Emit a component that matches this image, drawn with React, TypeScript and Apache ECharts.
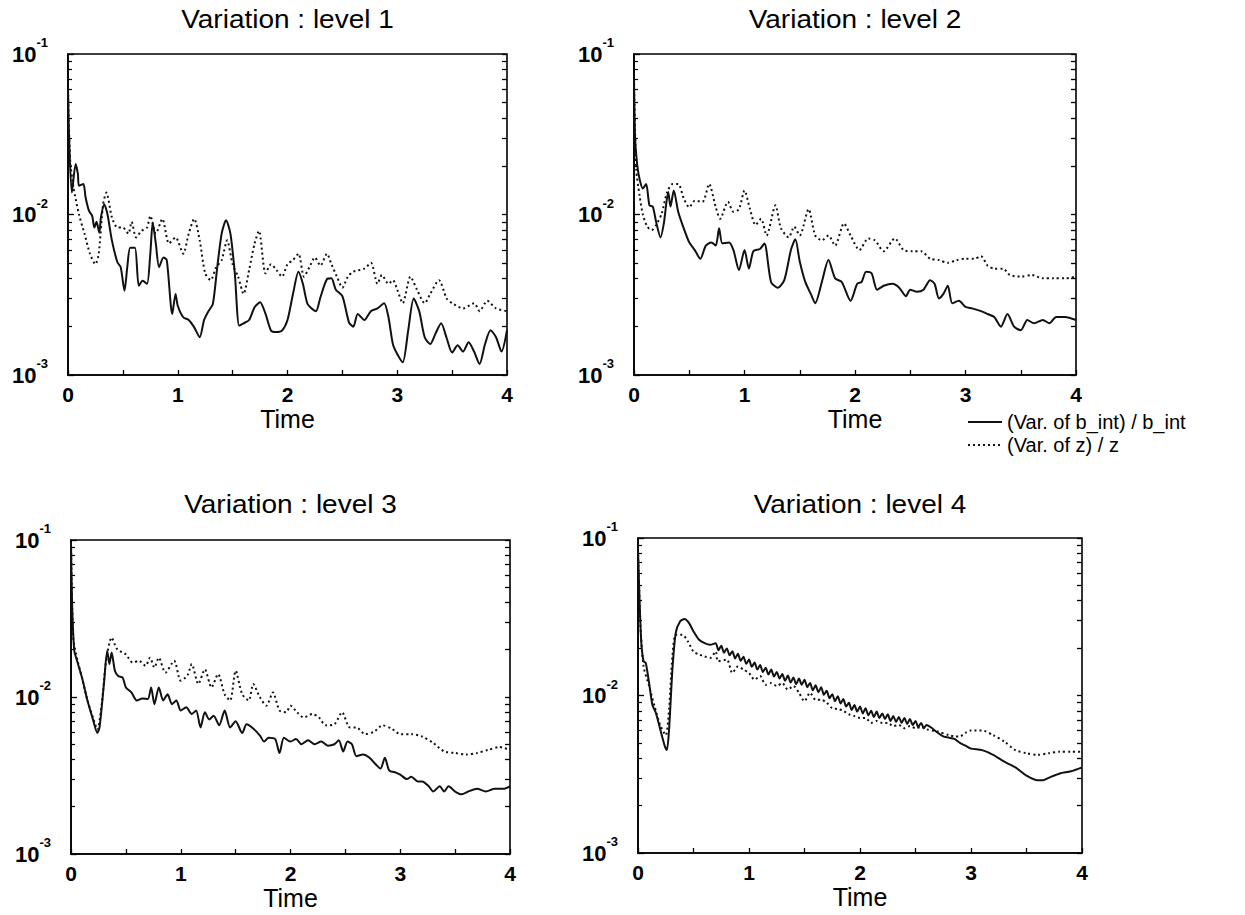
import React, { useEffect, useRef } from 'react';
import * as echarts from 'echarts';

// ---------- data ----------
const panelTitles = ['Variation : level 1', 'Variation : level 2', 'Variation : level 3', 'Variation : level 4'];
const seriesNames = ['(Var. of b_int) / b_int', '(Var. of z) / z'];
const xAxisName = 'Time';

const level1Bint: [number, number][] = [
  [0, 0.06], [0.01, 0.03], [0.035, 0.0137], [0.07, 0.0206], [0.09, 0.0179], [0.1, 0.0151], [0.14, 0.0155],
  [0.16, 0.0128], [0.19, 0.0106], [0.22, 0.0098], [0.24, 0.0083], [0.26, 0.009], [0.285, 0.0077], [0.3, 0.0096],
  [0.33, 0.0116], [0.36, 0.01], [0.4, 0.0069], [0.45, 0.00504], [0.48, 0.0047], [0.515, 0.00335], [0.54, 0.0047],
  [0.567, 0.0062], [0.61, 0.0062], [0.645, 0.0036], [0.68, 0.00387], [0.72, 0.0037], [0.75, 0.0057], [0.772, 0.0089],
  [0.8, 0.0066], [0.83, 0.0047], [0.87, 0.0054], [0.9, 0.0052], [0.95, 0.0024], [0.98, 0.0032], [1.0, 0.0027],
  [1.05, 0.00229], [1.1, 0.0022], [1.15, 0.00198], [1.2, 0.00172], [1.24, 0.0022], [1.28, 0.0025], [1.32, 0.00277],
  [1.36, 0.0047], [1.4, 0.0076], [1.44, 0.0092], [1.48, 0.0076], [1.52, 0.0043], [1.56, 0.00203], [1.6, 0.0021],
  [1.65, 0.0022], [1.7, 0.00264], [1.75, 0.00284], [1.8, 0.0024], [1.85, 0.00189], [1.9, 0.00185], [1.95, 0.00189],
  [2.0, 0.0022], [2.05, 0.0032], [2.1, 0.0044], [2.14, 0.0037], [2.18, 0.0028], [2.22, 0.0026], [2.26, 0.0025],
  [2.3, 0.00305], [2.36, 0.00396], [2.4, 0.004], [2.44, 0.0034], [2.5, 0.0031], [2.56, 0.00213], [2.6, 0.002],
  [2.64, 0.0024], [2.7, 0.0022], [2.76, 0.0025], [2.82, 0.0026], [2.88, 0.0028], [2.92, 0.00229], [2.96, 0.00156],
  [3.0, 0.00135], [3.05, 0.0012], [3.1, 0.0019], [3.15, 0.003], [3.2, 0.0025], [3.25, 0.00172], [3.3, 0.00156],
  [3.35, 0.00182], [3.4, 0.0021], [3.45, 0.0017], [3.5, 0.00138], [3.55, 0.00153], [3.6, 0.0014], [3.65, 0.0016],
  [3.7, 0.0014], [3.75, 0.00117], [3.8, 0.00156], [3.85, 0.0019], [3.9, 0.00172], [3.95, 0.0014], [4.0, 0.0019],
];

const level1Z: [number, number][] = [
  [0, 0.06], [0.02, 0.0216], [0.05, 0.0148], [0.1, 0.01], [0.15, 0.0076], [0.2, 0.0057], [0.25, 0.0049],
  [0.28, 0.0057], [0.32, 0.0116], [0.35, 0.0137], [0.4, 0.0096], [0.45, 0.0083], [0.5, 0.0083], [0.55, 0.0076],
  [0.58, 0.009], [0.62, 0.0072], [0.67, 0.0079], [0.72, 0.0083], [0.75, 0.0098], [0.8, 0.0076], [0.86, 0.0094],
  [0.92, 0.0066], [0.98, 0.0072], [1.05, 0.0057], [1.1, 0.0076], [1.15, 0.0094], [1.2, 0.0069], [1.25, 0.0043],
  [1.3, 0.0039], [1.35, 0.0047], [1.4, 0.0052], [1.45, 0.0069], [1.5, 0.0049], [1.55, 0.0041], [1.6, 0.0032],
  [1.65, 0.0045], [1.7, 0.0066], [1.74, 0.0079], [1.8, 0.0043], [1.85, 0.0049], [1.9, 0.0045], [1.95, 0.0041],
  [2.0, 0.0049], [2.05, 0.0052], [2.1, 0.0057], [2.15, 0.0041], [2.2, 0.0047], [2.25, 0.0054], [2.3, 0.0048],
  [2.36, 0.0057], [2.4, 0.0049], [2.45, 0.0041], [2.5, 0.0035], [2.55, 0.0041], [2.6, 0.0044], [2.7, 0.0046],
  [2.76, 0.005], [2.82, 0.0037], [2.86, 0.0042], [2.92, 0.0037], [2.96, 0.0039], [3.0, 0.0034], [3.05, 0.0028],
  [3.12, 0.0041], [3.18, 0.0034], [3.25, 0.0028], [3.3, 0.0032], [3.38, 0.0039], [3.45, 0.003], [3.5, 0.0028],
  [3.6, 0.0026], [3.7, 0.0028], [3.75, 0.0025], [3.82, 0.0029], [3.9, 0.0026], [4.0, 0.0025],
];

const level2Bint: [number, number][] = [
  [0, 0.07], [0.01, 0.03], [0.03, 0.0202], [0.05, 0.0167], [0.08, 0.0145], [0.11, 0.0155], [0.14, 0.0114],
  [0.17, 0.0112], [0.2, 0.009], [0.24, 0.0072], [0.27, 0.0088], [0.31, 0.0138], [0.33, 0.0112], [0.36, 0.0141],
  [0.4, 0.0104], [0.45, 0.0082], [0.5, 0.0067], [0.55, 0.006], [0.6, 0.0053], [0.65, 0.0064], [0.7, 0.0067],
  [0.74, 0.0064], [0.77, 0.0082], [0.8, 0.0066], [0.86, 0.0067], [0.9, 0.006], [0.95, 0.0045], [1.0, 0.006],
  [1.04, 0.0046], [1.08, 0.0059], [1.14, 0.0061], [1.18, 0.0066], [1.24, 0.0038], [1.3, 0.0035], [1.36, 0.0039],
  [1.42, 0.006], [1.46, 0.007], [1.5, 0.0051], [1.55, 0.0038], [1.6, 0.0032], [1.64, 0.0028], [1.7, 0.0038],
  [1.76, 0.0052], [1.82, 0.004], [1.88, 0.0038], [1.96, 0.0029], [2.02, 0.0037], [2.06, 0.0038], [2.1, 0.0044],
  [2.15, 0.0043], [2.2, 0.0034], [2.26, 0.0036], [2.34, 0.0037], [2.4, 0.0035], [2.46, 0.0031], [2.5, 0.0034],
  [2.56, 0.0033], [2.62, 0.0034], [2.68, 0.0039], [2.72, 0.0037], [2.76, 0.003], [2.8, 0.0032], [2.84, 0.0036],
  [2.88, 0.0028], [2.94, 0.0029], [3.0, 0.00266], [3.06, 0.0026], [3.14, 0.0025], [3.2, 0.0024], [3.26, 0.0023],
  [3.32, 0.002], [3.38, 0.0024], [3.44, 0.002], [3.5, 0.0019], [3.56, 0.0022], [3.62, 0.0021], [3.7, 0.0022],
  [3.76, 0.0021], [3.82, 0.0023], [3.9, 0.0023], [4.0, 0.0022],
];

const level2Z: [number, number][] = [
  [0, 0.07], [0.02, 0.019], [0.05, 0.0132], [0.08, 0.01], [0.12, 0.0084], [0.16, 0.008], [0.2, 0.0086],
  [0.25, 0.0101], [0.3, 0.0138], [0.35, 0.0155], [0.4, 0.0155], [0.45, 0.0126], [0.5, 0.0111], [0.55, 0.0122],
  [0.62, 0.012], [0.68, 0.0155], [0.74, 0.0111], [0.78, 0.0094], [0.85, 0.012], [0.9, 0.0104], [0.95, 0.0108],
  [1.0, 0.0141], [1.05, 0.0108], [1.1, 0.0086], [1.15, 0.0094], [1.2, 0.0074], [1.28, 0.0114], [1.33, 0.0082],
  [1.4, 0.0072], [1.45, 0.0084], [1.5, 0.0074], [1.58, 0.0108], [1.64, 0.0074], [1.7, 0.0069], [1.76, 0.0074],
  [1.82, 0.0064], [1.9, 0.0088], [1.96, 0.0074], [2.04, 0.006], [2.12, 0.0071], [2.18, 0.0069], [2.26, 0.0059],
  [2.36, 0.0071], [2.44, 0.006], [2.52, 0.0059], [2.6, 0.0059], [2.68, 0.0053], [2.76, 0.0052], [2.84, 0.005],
  [2.92, 0.0052], [3.0, 0.0053], [3.08, 0.0053], [3.14, 0.0055], [3.2, 0.0048], [3.26, 0.0046], [3.34, 0.0046],
  [3.4, 0.0042], [3.5, 0.0041], [3.6, 0.0042], [3.7, 0.004], [3.8, 0.004], [3.9, 0.004], [4.0, 0.0041],
];

const level3Bint: [number, number][] = [
  [0, 0.096], [0.01, 0.039], [0.03, 0.0197], [0.06, 0.0166], [0.1, 0.0133], [0.15, 0.0095], [0.2, 0.0072],
  [0.24, 0.0059], [0.26, 0.0064], [0.3, 0.0121], [0.33, 0.0197], [0.35, 0.0162], [0.37, 0.0192], [0.4, 0.0147],
  [0.43, 0.0136], [0.47, 0.0133], [0.5, 0.0115], [0.55, 0.0107], [0.6, 0.0095], [0.65, 0.0098], [0.7, 0.0097],
  [0.73, 0.0115], [0.76, 0.009], [0.8, 0.0115], [0.84, 0.0095], [0.88, 0.0104], [0.92, 0.009], [0.96, 0.0095],
  [1.0, 0.0082], [1.05, 0.0086], [1.1, 0.0078], [1.14, 0.0082], [1.18, 0.0064], [1.22, 0.008], [1.26, 0.0072],
  [1.3, 0.0076], [1.35, 0.0066], [1.4, 0.0082], [1.45, 0.0064], [1.5, 0.007], [1.56, 0.0059], [1.6, 0.0067],
  [1.66, 0.0063], [1.72, 0.0057], [1.76, 0.0052], [1.8, 0.0055], [1.86, 0.0054], [1.9, 0.0044], [1.94, 0.0055],
  [2.0, 0.0052], [2.05, 0.0054], [2.1, 0.005], [2.16, 0.0053], [2.22, 0.005], [2.28, 0.0052], [2.34, 0.0049],
  [2.4, 0.005], [2.44, 0.0053], [2.48, 0.0045], [2.52, 0.0052], [2.56, 0.005], [2.6, 0.0042], [2.66, 0.0043],
  [2.72, 0.0041], [2.78, 0.0037], [2.82, 0.0035], [2.86, 0.0041], [2.9, 0.0034], [2.96, 0.0033], [3.0, 0.0032],
  [3.06, 0.003], [3.1, 0.0031], [3.16, 0.0029], [3.2, 0.0029], [3.26, 0.0027], [3.3, 0.0025], [3.36, 0.0027],
  [3.4, 0.0025], [3.44, 0.0027], [3.5, 0.0025], [3.56, 0.0024], [3.62, 0.0025], [3.7, 0.0026], [3.78, 0.0025],
  [3.86, 0.0026], [3.94, 0.0026], [4.0, 0.0027],
];

const level3Z: [number, number][] = [
  [0, 0.096], [0.02, 0.024], [0.06, 0.017], [0.1, 0.0133], [0.15, 0.0095], [0.2, 0.0074], [0.24, 0.0062],
  [0.28, 0.009], [0.32, 0.017], [0.37, 0.0239], [0.42, 0.0202], [0.5, 0.0187], [0.56, 0.0166], [0.62, 0.017],
  [0.68, 0.0158], [0.72, 0.0178], [0.76, 0.0154], [0.8, 0.0178], [0.86, 0.0143], [0.94, 0.017], [1.0, 0.0127],
  [1.06, 0.0137], [1.1, 0.0162], [1.16, 0.0121], [1.22, 0.015], [1.28, 0.0115], [1.34, 0.014], [1.4, 0.0104],
  [1.45, 0.0095], [1.5, 0.0147], [1.56, 0.0104], [1.62, 0.0095], [1.66, 0.0121], [1.72, 0.01], [1.78, 0.0088],
  [1.84, 0.0107], [1.9, 0.0082], [1.96, 0.008], [2.0, 0.0088], [2.06, 0.008], [2.12, 0.0074], [2.2, 0.0078],
  [2.26, 0.0074], [2.32, 0.0066], [2.4, 0.0067], [2.47, 0.008], [2.54, 0.0064], [2.6, 0.0064], [2.68, 0.0058],
  [2.76, 0.006], [2.84, 0.0066], [2.92, 0.0063], [3.0, 0.0058], [3.1, 0.0058], [3.2, 0.0056], [3.3, 0.0051],
  [3.4, 0.0045], [3.5, 0.0044], [3.6, 0.0043], [3.7, 0.0044], [3.8, 0.0046], [3.9, 0.0048], [4.0, 0.0046],
];

const level4Bint: [number, number][] = [
  [0, 0.084], [0.015, 0.0386], [0.03, 0.0215], [0.05, 0.0165], [0.07, 0.0161], [0.1, 0.012], [0.13, 0.0087],
  [0.16, 0.0078], [0.2, 0.0061], [0.24, 0.0048], [0.26, 0.0045], [0.28, 0.0061], [0.31, 0.0146], [0.34, 0.025],
  [0.38, 0.0296], [0.42, 0.0306], [0.46, 0.0288], [0.5, 0.0255], [0.55, 0.0226], [0.6, 0.0215], [0.65, 0.021],
  [0.7, 0.0215], [0.725, 0.0194], [0.75, 0.0207], [0.775, 0.0187], [0.8, 0.0199], [0.825, 0.018], [0.85, 0.0191],
  [0.875, 0.0172], [0.9, 0.0184], [0.925, 0.0166], [0.95, 0.0176], [0.975, 0.0159], [1.0, 0.0169], [1.025, 0.0152],
  [1.05, 0.0162], [1.075, 0.0146], [1.1, 0.0156], [1.125, 0.0141], [1.15, 0.015], [1.175, 0.0136], [1.2, 0.0146],
  [1.225, 0.0132], [1.25, 0.0141], [1.275, 0.0128], [1.3, 0.0137], [1.325, 0.0124], [1.35, 0.0134], [1.375, 0.0121],
  [1.4, 0.013], [1.425, 0.0118], [1.45, 0.0128], [1.475, 0.0117], [1.5, 0.0126], [1.525, 0.0113], [1.55, 0.012],
  [1.575, 0.0108], [1.6, 0.0116], [1.625, 0.0105], [1.65, 0.0113], [1.675, 0.0101], [1.7, 0.0107], [1.725, 0.0096],
  [1.75, 0.0102], [1.775, 0.0092], [1.8, 0.0099], [1.825, 0.0089], [1.85, 0.0095], [1.875, 0.0085], [1.9, 0.009],
  [1.925, 0.0081], [1.95, 0.0087], [1.975, 0.0079], [2.0, 0.0085], [2.025, 0.0077], [2.05, 0.0083], [2.075, 0.0075],
  [2.1, 0.008], [2.125, 0.0073], [2.15, 0.0079], [2.175, 0.0072], [2.2, 0.0077], [2.225, 0.0071], [2.25, 0.0076],
  [2.275, 0.0069], [2.3, 0.0074], [2.325, 0.0068], [2.35, 0.0073], [2.375, 0.0067], [2.4, 0.0072], [2.425, 0.0066],
  [2.45, 0.0071], [2.475, 0.0065], [2.5, 0.0069], [2.525, 0.0063], [2.55, 0.0067], [2.575, 0.0062], [2.6, 0.0065],
  [2.65, 0.0062], [2.7, 0.0058], [2.75, 0.0055], [2.8, 0.0054], [2.85, 0.0053], [2.9, 0.005], [2.95, 0.0048],
  [3.0, 0.0046], [3.1, 0.0045], [3.2, 0.0042], [3.3, 0.0038], [3.4, 0.0035], [3.5, 0.0031], [3.6, 0.0029],
  [3.65, 0.0029], [3.7, 0.003], [3.8, 0.0032], [3.9, 0.0033], [4.0, 0.0035],
];

const level4Z: [number, number][] = [
  [0, 0.084], [0.02, 0.03], [0.05, 0.0153], [0.1, 0.0115], [0.15, 0.0085], [0.2, 0.0065], [0.25, 0.0056],
  [0.28, 0.0082], [0.31, 0.0177], [0.34, 0.0243], [0.4, 0.0243], [0.45, 0.022], [0.5, 0.019], [0.55, 0.0182],
  [0.6, 0.0177], [0.65, 0.0173], [0.7, 0.019], [0.72, 0.0165], [0.8, 0.0169], [0.85, 0.0139], [0.9, 0.0153],
  [0.95, 0.0146], [1.0, 0.0139], [1.05, 0.0126], [1.1, 0.0133], [1.15, 0.0117], [1.2, 0.012], [1.25, 0.0115],
  [1.3, 0.012], [1.35, 0.0109], [1.4, 0.0115], [1.45, 0.0104], [1.5, 0.0092], [1.55, 0.0104], [1.6, 0.0094],
  [1.65, 0.0094], [1.7, 0.009], [1.75, 0.0083], [1.8, 0.0082], [1.85, 0.008], [1.9, 0.0076], [1.95, 0.0074],
  [2.0, 0.0072], [2.05, 0.0072], [2.1, 0.0067], [2.15, 0.0069], [2.2, 0.0067], [2.25, 0.0067], [2.3, 0.0064],
  [2.35, 0.0065], [2.4, 0.0062], [2.45, 0.0064], [2.5, 0.0062], [2.55, 0.0063], [2.6, 0.0061], [2.7, 0.0059],
  [2.8, 0.0056], [2.85, 0.0055], [2.9, 0.0055], [2.95, 0.0058], [3.0, 0.006], [3.1, 0.006], [3.2, 0.0056],
  [3.3, 0.0051], [3.4, 0.0045], [3.5, 0.0043], [3.6, 0.0042], [3.7, 0.0043], [3.8, 0.0044], [3.9, 0.0044],
  [4.0, 0.0044],
];

const panelData = [
  [level1Bint, level1Z],
  [level2Bint, level2Z],
  [level3Bint, level3Z],
  [level4Bint, level4Z],
];

// ---------- layout ----------
const FONT = '"Liberation Sans", Arial, Helvetica, sans-serif';
const grids = [
  { left: 68, top: 54, width: 439, height: 321 },
  { left: 634, top: 54, width: 442, height: 321 },
  { left: 71, top: 540, width: 439, height: 314 },
  { left: 638, top: 538, width: 444, height: 315 },
];

// tick positions for the log minor marks (2..9 in each decade), expressed in log10 units
const minorLog: number[] = [];
[-3, -2].forEach((d) => {
  [2, 3, 4, 5, 6, 7, 8, 9].forEach((m) => minorLog.push(d + Math.log10(m)));
});
const allLog = [-3, -2, -1, ...minorLog];

export default function App() {
  const ref = useRef<HTMLDivElement>(null);

  useEffect(() => {
    if (!ref.current) return;
    const chart = echarts.init(ref.current, undefined, { renderer: 'svg' });

    const xAxes: any[] = [];
    const yAxes: any[] = [];
    const series: any[] = [];
    const graphics: any[] = [];

    grids.forEach((g, i) => {
      xAxes.push({
        type: 'value',
        gridIndex: i,
        min: 0,
        max: 4,
        interval: 0.5,
        name: xAxisName,
        nameLocation: 'middle',
        nameGap: 31,
        nameTextStyle: { fontFamily: FONT, fontSize: 25, color: '#000' },
        axisLine: { show: true, lineStyle: { color: '#000', width: 1.6 } },
        axisTick: { show: true, inside: true, length: 5, lineStyle: { color: '#000', width: 1.3 } },
        splitLine: { show: false },
        axisLabel: {
          margin: 9,
          fontFamily: FONT,
          fontSize: 21,
          fontWeight: 'bold',
          color: '#000',
          formatter: (v: number) => (Number.isInteger(v) ? String(v) : ''),
        },
      });
      yAxes.push({
        type: 'log',
        logBase: 10,
        gridIndex: i,
        min: 0.001,
        max: 0.1,
        position: 'left',
        axisLine: { show: true, lineStyle: { color: '#000', width: 1.6 } },
        axisTick: { show: true, inside: true, length: 6, lineStyle: { color: '#000', width: 1.3 } },
        splitLine: { show: false },
        axisLabel: {
          margin: 20,
          color: '#000',
          formatter: (v: number) => `{b|10}{s|${Math.round(Math.log10(v))}}`,
          rich: {
            b: { fontFamily: FONT, fontSize: 22, fontWeight: 'bold', lineHeight: 36, color: '#000' },
            s: { fontFamily: FONT, fontSize: 13, fontWeight: 'bold', lineHeight: 13, verticalAlign: 'top', color: '#000' },
          },
        },
      });
      yAxes.push({
        type: 'value',
        gridIndex: i,
        min: -3,
        max: -1,
        position: 'left',
        axisLine: { show: false },
        axisLabel: { show: false },
        splitLine: { show: false },
        axisTick: { show: true, inside: true, length: 4, customValues: minorLog, lineStyle: { color: '#000', width: 1.2 } },
      });
      yAxes.push({
        type: 'value',
        gridIndex: i,
        min: -3,
        max: -1,
        position: 'right',
        axisLine: { show: false },
        axisLabel: { show: false },
        splitLine: { show: false },
        axisTick: { show: true, inside: true, length: 5, customValues: allLog, lineStyle: { color: '#000', width: 1.3 } },
      });

      const [solid, dotted] = panelData[i];
      series.push({
        type: 'line',
        name: seriesNames[0],
        xAxisIndex: i,
        yAxisIndex: i * 3,
        data: solid,
        symbol: 'none',
        showSymbol: false,
        smooth: 0.25,
        itemStyle: { color: '#111' },
        lineStyle: { color: '#111', width: 2, type: 'solid' },
        z: 3,
      });
      series.push({
        type: 'line',
        name: seriesNames[1],
        xAxisIndex: i,
        yAxisIndex: i * 3,
        data: dotted,
        symbol: 'none',
        showSymbol: false,
        smooth: 0.25,
        itemStyle: { color: '#111' },
        lineStyle: { color: '#111', width: 2, type: [2, 3] },
        z: 2,
      });

      graphics.push({
        type: 'text',
        x: g.left + g.width / 2,
        y: i < 2 ? 20 : 505,
        scaleX: 1.12,
        style: {
          text: panelTitles[i],
          fontFamily: FONT,
          fontSize: 25,
          fill: '#000',
          textAlign: 'center',
          textVerticalAlign: 'middle',
        },
      });
    });

    chart.setOption({
      animation: false,
      backgroundColor: '#fff',
      grid: grids.map((g) => ({ ...g, show: true, borderColor: '#000', borderWidth: 1.6, backgroundColor: 'transparent' })),
      xAxis: xAxes,
      yAxis: yAxes,
      legend: {
        data: seriesNames,
        orient: 'vertical',
        left: 962,
        top: 407,
        itemWidth: 34,
        itemHeight: 10,
        itemGap: 3,
        itemStyle: { opacity: 0 },
        textStyle: { fontFamily: FONT, fontSize: 20, color: '#000' },
        selectedMode: false,
      },
      graphic: graphics,
      series,
    });

    return () => chart.dispose();
  }, []);

  return (
    <div
      ref={ref}
      style={{ position: 'absolute', left: 0, top: 0, width: 1245, height: 915, background: '#fff' }}
    />
  );
}
